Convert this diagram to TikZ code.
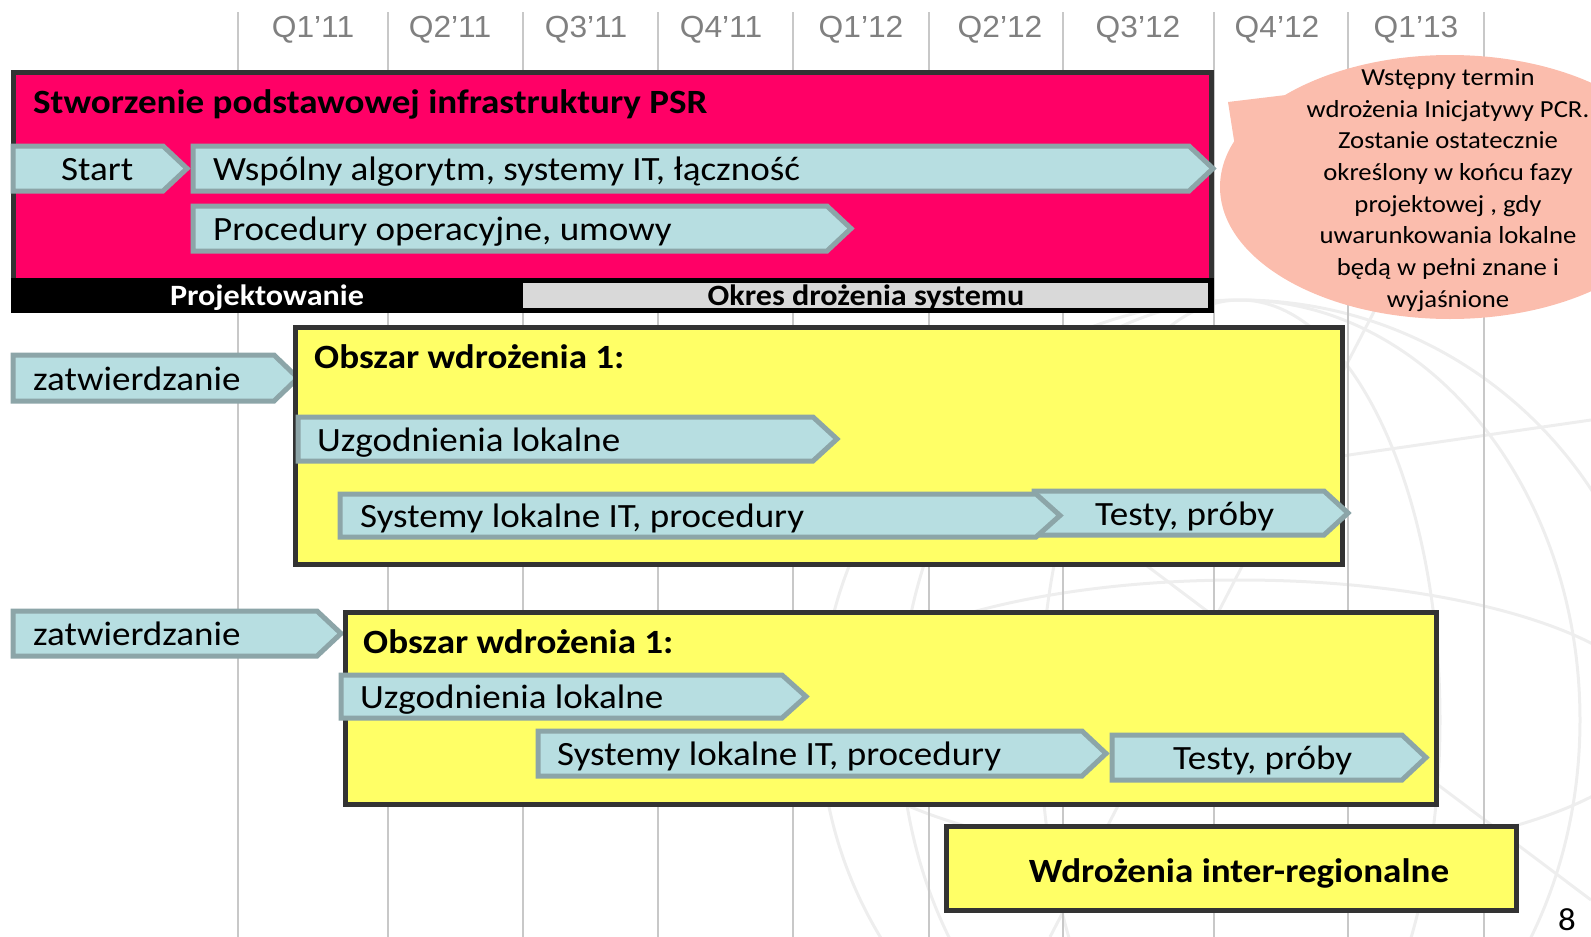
\documentclass[tikz,border=0pt]{standalone}
\usepackage{fontspec}
\setmainfont{Carlito}[FakeStretch=1.09]
\newfontfamily\qfont{Liberation Sans}[FakeStretch=1.04]
\usepackage{tikz}
\usetikzlibrary{positioning,shapes.geometric}

\definecolor{psrpink}{HTML}{FF0066}
\definecolor{barfill}{HTML}{B7DEE1}
\definecolor{barline}{HTML}{8CA5A8}
\definecolor{areayellow}{HTML}{FFFF66}
\definecolor{framegray}{HTML}{333333}
\definecolor{notepink}{HTML}{FBBDAD}
\definecolor{gridgray}{HTML}{C8C8C8}
\definecolor{qgray}{HTML}{808080}
\definecolor{implgray}{HTML}{D9D9D9}
\definecolor{globegray}{HTML}{EEEEEE}

\begin{document}
\begin{tikzpicture}[x=1pt,y=-1pt,
      globe/.style ={draw=globegray,line width=3pt},
      grid/.style  ={draw=gridgray,line width=2pt},
      qlbl/.style  ={font=\qfont\fontsize{30.5}{36}\selectfont,text=qgray,anchor=base,inner sep=0},
      frame/.style ={draw=framegray,line width=5pt},
      bar/.style   ={draw=barline,fill=barfill,line width=5pt,line join=miter},
      lbl/.style   ={font=\fontsize{34}{40}\selectfont,inner sep=0,anchor=base west},
      head/.style  ={font=\bfseries\fontsize{34}{40}\selectfont,inner sep=0,anchor=base west},
      phase/.style ={font=\bfseries\fontsize{29.5}{35}\selectfont,inner sep=0,anchor=base}]
  \useasboundingbox (0,0) rectangle (1591,937);

  % Faint globe in the background
  \begin{scope}
    \clip (0,0) rectangle (1591,937);
    \draw[globe] (1240,720) circle[radius=420pt];
    \draw[globe] (1240,720) ellipse[x radius=200pt,y radius=420pt];
    \draw[globe] (1240,720) ellipse[x radius=340pt,y radius=420pt];
    \draw[globe] (1240,720) ellipse[x radius=420pt,y radius=140pt];
    \draw[globe] (830,530) -- (1591,420);
    \draw[globe] (900,380) -- (1591,900);
    \draw[globe] (1380,300) -- (1050,937);
  \end{scope}

  % Quarter grid
  \foreach \x in {238,388,523,658,793,929,1063,1214,1348,1484}{\draw[grid] (\x,12) -- (\x,937);}
  \foreach \x/\q [count=\i] in {313/Q1’11,450/Q2’11,586/Q3’11,721/Q4’11,861/Q1’12,1000/Q2’12,1138/Q3’12,1277/Q4’12,1416/Q1’13}
    {\node[qlbl] (q\i) at (\x,37) {\q};}

  % Macro: bar with pointed end (name, left, tip, top, bottom, text x, text)
  \newcommand{\phasebar}[7]{%
    \draw[bar] (#2,#4) -- ({#3-24},#4) -- (#3,{(#4+#5)/2}) -- ({#3-24},#5) -- (#2,#5) -- cycle;
    \node[lbl] (#1) at (#6,{(#4+#5)/2+12}) {#7};
  }

  % PSR infrastructure
  \draw[frame,fill=psrpink] (13.5,72.5) rectangle (1211.5,310.5);
  \fill[black] (11,278) rectangle (1214,313);
  \fill[implgray] (523,283) rectangle (1208,308);
  \node[head] (psr) at (33,113) {Stworzenie podstawowej infrastruktury PSR};
  \phasebar{start}{13}{187}{146}{191}{61}{Start}
  \phasebar{algo}{193}{1213}{146}{191}{213}{Wspólny algorytm, systemy IT, łączność}
  \phasebar{proc}{193}{851}{206}{251}{213}{Procedury operacyjne, umowy}
  \node[phase,text=white] (design) at (267,305) {Projektowanie};
  \node[phase] (impl) at (866,305) {Okres drożenia systemu};

  % Note
  \node[ellipse,fill=notepink,minimum width=460pt,minimum height=264pt,inner sep=0] (note) at (1450,187) {};
  \coordinate (notetip) at (1228,102);
  \fill[notepink] (note.151) -- (notetip) -- (note.168) -- (note.center) -- cycle;
  \node[font=\fontsize{24.5}{31.7}\selectfont,align=center,inner sep=0] (notetext) at (1448,190)
    {Wstępny termin\\wdrożenia Inicjatywy PCR.\\Zostanie ostatecznie\\określony w końcu fazy\\projektowej , gdy\\uwarunkowania lokalne\\będą w pełni  znane i\\wyjaśnione};

  % Area 1 (first)
  \phasebar{appr1}{13}{298}{355}{401}{33}{zatwierdzanie}
  \draw[frame,fill=areayellow] (295.5,327.5) rectangle (1342.5,564.5);
  \node[head] (area1) at (314,368) {Obszar wdrożenia 1:};
  \phasebar{agr1}{298}{837}{417}{461}{317}{Uzgodnienia lokalne}
  \phasebar{test1}{1034}{1348}{491}{535}{1095}{Testy, próby}
  \phasebar{sys1}{340}{1060}{494}{537}{360}{Systemy lokalne IT, procedury}

  % Area 1 (second)
  \phasebar{appr2}{13}{341}{611}{656}{33}{zatwierdzanie}
  \draw[frame,fill=areayellow] (345.5,612.5) rectangle (1436.5,804.5);
  \node[head] (area2) at (363,653) {Obszar wdrożenia 1:};
  \phasebar{agr2}{341}{806}{675}{718}{360}{Uzgodnienia lokalne}
  \phasebar{sys2}{538}{1106}{731}{776}{557}{Systemy lokalne IT, procedury}
  \phasebar{test2}{1112}{1426}{735}{780}{1173}{Testy, próby}

  % Inter-regional
  \draw[frame,fill=areayellow] (946.5,826.5) rectangle (1516.5,910.5);
  \node[head,anchor=base] (inter) at (1239,882) {Wdrożenia inter-regionalne};

  \node[font=\fontsize{32}{38}\selectfont,inner sep=0,anchor=base] (pnum) at (1567,930) {8};
\end{tikzpicture}
\end{document}
